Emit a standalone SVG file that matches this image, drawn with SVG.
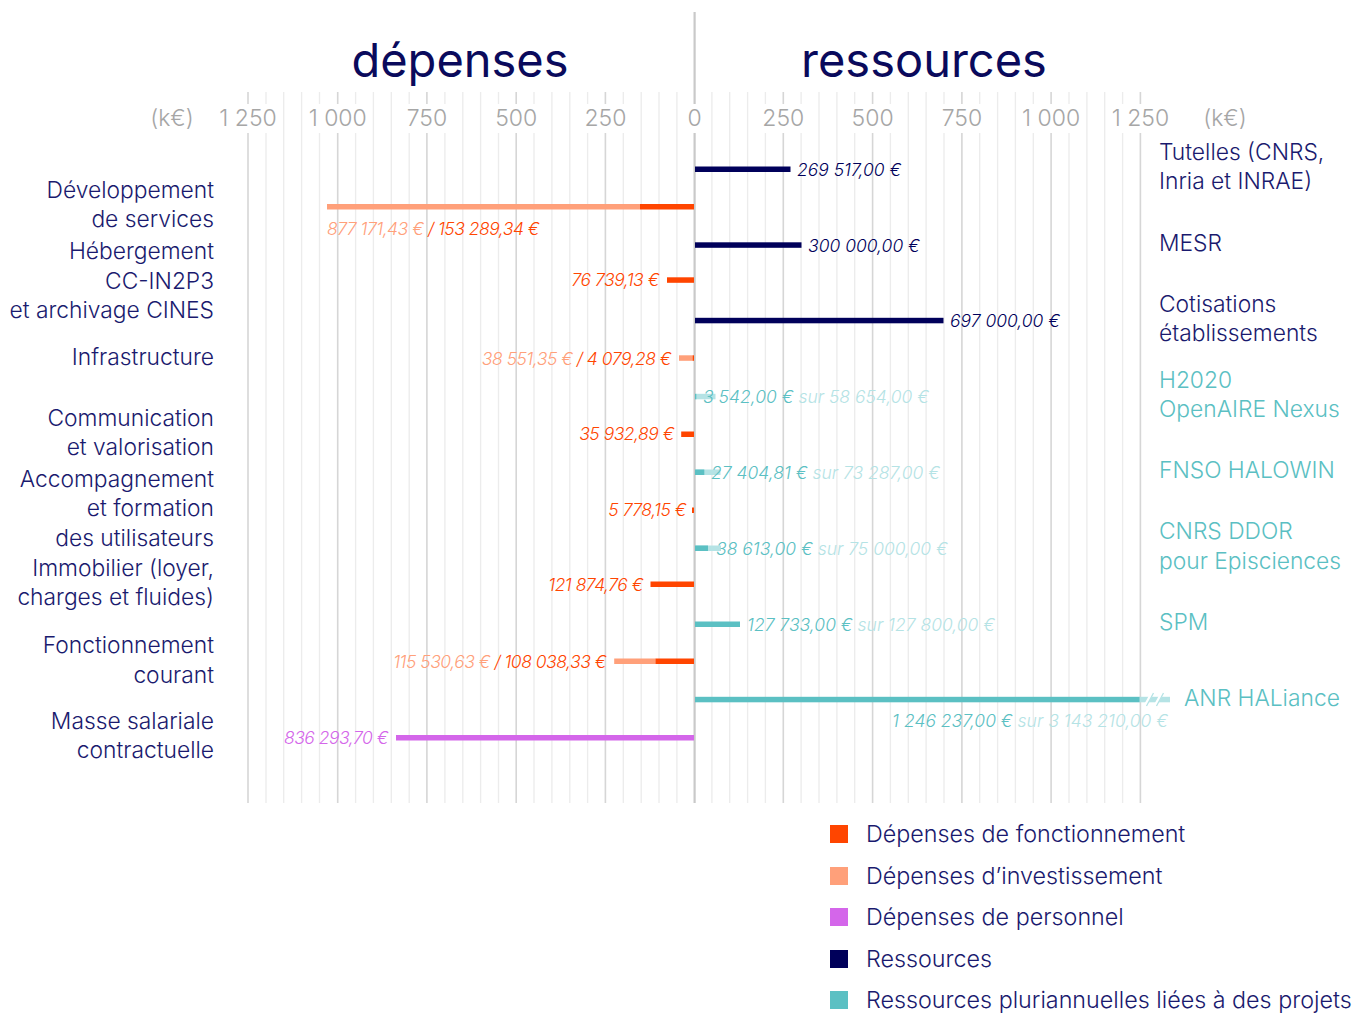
<svg xmlns="http://www.w3.org/2000/svg" width="1352" height="1013" viewBox="0 0 1352 1013">
<style>
text{font-family:Inter,"Noto Sans","DejaVu Sans",sans-serif;font-weight:300}
.title{font-size:47px;fill:#0a0a5c;text-anchor:middle;font-weight:400}
.ax{font-size:23px;fill:#a6a6a6;text-anchor:middle}
.lbl{font-size:22.8px;fill:#1a1a6e;text-anchor:end}
.rl{font-size:22.8px;fill:#1a1a6e}
.rt{font-size:22.8px;fill:#5bbfc3}
.val{font-size:17.5px;font-style:italic;letter-spacing:-0.5px}
.rv{letter-spacing:0}
.fo{fill:#ff4500}.inv{fill:#ffa07a}.per{fill:#d466ea}.res{fill:#00005a}.tl{fill:#5bc0c3}.tll{fill:#b5e3e5}
.minor{stroke:#ececec;stroke-width:1.3}
.major{stroke:#d6d6d6;stroke-width:1.6}
.lg{font-size:23.3px;fill:#1a1a6e}
</style>
<g id="grid">
<g class="minor">
<path d="M266 92V803M283.7 92V803M301.6 92V803M319.5 92V803M355.6 92V803M373.4 92V803M391.3 92V803M409.2 92V803M444.9 92V803M462.8 92V803M480.6 92V803M498.5 92V803M534 92V803M551.9 92V803M569.8 92V803M587.6 92V803M623.3 92V803M641.2 92V803M659 92V803M676.9 92V803"/>
<path d="M711.9 92V803M729.7 92V803M747.6 92V803M765.4 92V803M801.1 92V803M819 92V803M836.9 92V803M854.7 92V803M890.4 92V803M908.3 92V803M926.1 92V803M944 92V803M979.7 92V803M997.6 92V803M1015.4 92V803M1033.3 92V803M1069 92V803M1086.9 92V803M1104.7 92V803M1122.6 92V803"/>
</g>
<g class="major">
<path d="M248 92V803M337.7 92V803M426.9 92V803M516.2 92V803M605.4 92V803M783.3 92V803M872.6 92V803M961.9 92V803M1051.1 92V803M1140.4 92V803"/>
</g>
<path d="M694.6 12V803" stroke="#c9c9c9" stroke-width="2.2"/>
</g>
<g id="titles">
<text class="title" x="460" y="77">dépenses</text>
<text class="title" x="924" y="77">ressources</text>
</g>
<g id="axis-labels">
<g fill="#fff">
<rect x="216" y="104" width="63" height="29"/>
<rect x="305" y="104" width="65" height="29"/>
<rect x="404" y="104" width="46" height="29"/>
<rect x="493" y="104" width="46" height="29"/>
<rect x="582" y="104" width="46" height="29"/>
<rect x="684" y="104" width="21" height="29"/>
<rect x="760" y="104" width="46" height="29"/>
<rect x="849" y="104" width="46" height="29"/>
<rect x="939" y="104" width="46" height="29"/>
<rect x="1019" y="104" width="65" height="29"/>
<rect x="1109" y="104" width="63" height="29"/>
</g>
<text class="ax" x="172" y="126">(k€)</text>
<text class="ax" x="248" y="126">1 250</text>
<text class="ax" x="337.7" y="126">1 000</text>
<text class="ax" x="426.9" y="126">750</text>
<text class="ax" x="516.2" y="126">500</text>
<text class="ax" x="605.4" y="126">250</text>
<text class="ax" x="694.6" y="126">0</text>
<text class="ax" x="783.3" y="126">250</text>
<text class="ax" x="872.6" y="126">500</text>
<text class="ax" x="961.9" y="126">750</text>
<text class="ax" x="1051.1" y="126">1 000</text>
<text class="ax" x="1140.4" y="126">1 250</text>
<text class="ax" x="1225" y="126">(k€)</text>
</g>
<g id="depenses">
<g id="dev-services">
<text class="lbl" x="214" y="198">Développement</text>
<text class="lbl" x="214" y="227">de services</text>
<rect class="inv" x="327" y="204" width="313" height="5.5"/>
<rect class="fo" x="640" y="204" width="54" height="5.5"/>
<text class="val" x="327" y="235"><tspan class="inv">877 171,43 €</tspan><tspan class="fo"> / 153 289,34 €</tspan></text>
</g>
<g id="hebergement">
<text class="lbl" x="214" y="259">Hébergement</text>
<text class="lbl" x="214" y="289">CC-IN2P3</text>
<text class="lbl" x="214" y="318">et archivage CINES</text>
<rect class="fo" x="667" y="277.3" width="27" height="5.5"/>
<text class="val fo" x="659" y="286" text-anchor="end">76 739,13 €</text>
</g>
<g id="infrastructure">
<text class="lbl" x="214" y="365">Infrastructure</text>
<rect class="inv" x="679" y="355.3" width="13.5" height="5.5"/>
<rect class="fo" x="692.5" y="355.3" width="1.5" height="5.5"/>
<text class="val" x="671" y="365" text-anchor="end"><tspan class="inv">38 551,35 €</tspan><tspan class="fo"> / 4 079,28 €</tspan></text>
</g>
<g id="communication">
<text class="lbl" x="214" y="426">Communication</text>
<text class="lbl" x="214" y="455">et valorisation</text>
<rect class="fo" x="681.2" y="431.5" width="12.8" height="5.5"/>
<text class="val fo" x="674" y="440" text-anchor="end">35 932,89 €</text>
</g>
<g id="accompagnement">
<text class="lbl" x="214" y="487">Accompagnement</text>
<text class="lbl" x="214" y="516">et formation</text>
<text class="lbl" x="214" y="546">des utilisateurs</text>
<rect class="fo" x="692" y="507.5" width="2" height="5.5"/>
<text class="val fo" x="686" y="516" text-anchor="end">5 778,15 €</text>
</g>
<g id="immobilier">
<text class="lbl" x="214" y="576">Immobilier (loyer,</text>
<text class="lbl" x="214" y="605">charges et fluides)</text>
<rect class="fo" x="650.5" y="581.5" width="43.5" height="5.5"/>
<text class="val fo" x="643" y="591" text-anchor="end">121 874,76 €</text>
</g>
<g id="fonctionnement">
<text class="lbl" x="214" y="653">Fonctionnement</text>
<text class="lbl" x="214" y="683">courant</text>
<rect class="inv" x="614.2" y="658.5" width="41.2" height="5.5"/>
<rect class="fo" x="655.4" y="658.5" width="38.6" height="5.5"/>
<text class="val" x="606" y="668" text-anchor="end"><tspan class="inv">115 530,63 €</tspan><tspan class="fo"> / 108 038,33 €</tspan></text>
</g>
<g id="masse-salariale">
<text class="lbl" x="214" y="729">Masse salariale</text>
<text class="lbl" x="214" y="758">contractuelle</text>
<rect class="per" x="396" y="735" width="298" height="5.5"/>
<text class="val per" x="388" y="744" text-anchor="end">836 293,70 €</text>
</g>
</g>
<g id="ressources">
<g id="tutelles">
<text class="rl" x="1159" y="160">Tutelles (CNRS,</text>
<text class="rl" x="1159" y="189">Inria et INRAE)</text>
<rect class="res" x="695" y="166.5" width="95.5" height="5.5"/>
<text class="val rv res" x="797" y="176">269 517,00 €</text>
</g>
<g id="mesr">
<text class="rl" x="1159" y="251">MESR</text>
<rect class="res" x="695" y="242.3" width="106.5" height="5.5"/>
<text class="val rv res" x="808" y="252">300 000,00 €</text>
</g>
<g id="cotisations">
<text class="rl" x="1159" y="312">Cotisations</text>
<text class="rl" x="1159" y="341">établissements</text>
<rect class="res" x="695" y="317.8" width="248.5" height="5.5"/>
<text class="val rv res" x="950" y="327">697 000,00 €</text>
</g>
<g id="h2020">
<text class="rt" x="1159" y="388">H2020</text>
<text class="rt" x="1159" y="417">OpenAIRE Nexus</text>
<rect class="tll" x="695" y="393.8" width="20.5" height="5.5"/>
<rect class="tl" x="695" y="393.8" width="1.3" height="5.5"/>
<text class="val rv" x="703" y="403"><tspan class="tl">3 542,00 €</tspan><tspan class="tll"> sur 58 654,00 €</tspan></text>
</g>
<g id="fnso">
<text class="rt" x="1159" y="478">FNSO HALOWIN</text>
<rect class="tll" x="695" y="469.5" width="25.5" height="5.5"/>
<rect class="tl" x="695" y="469.5" width="9.3" height="5.5"/>
<text class="val rv" x="711" y="479"><tspan class="tl">27 404,81 €</tspan><tspan class="tll"> sur 73 287,00 €</tspan></text>
</g>
<g id="cnrs-ddor">
<text class="rt" x="1159" y="539">CNRS DDOR</text>
<text class="rt" x="1159" y="569">pour Episciences</text>
<rect class="tll" x="695" y="545.5" width="26" height="5.5"/>
<rect class="tl" x="695" y="545.5" width="13" height="5.5"/>
<text class="val rv" x="716" y="555"><tspan class="tl">38 613,00 €</tspan><tspan class="tll"> sur 75 000,00 €</tspan></text>
</g>
<g id="spm">
<text class="rt" x="1159" y="630">SPM</text>
<rect class="tl" x="695" y="621.5" width="45" height="5.5"/>
<text class="val rv" x="747" y="631"><tspan class="tl">127 733,00 €</tspan><tspan class="tll"> sur 127 800,00 €</tspan></text>
</g>
<g id="anr">
<text class="rt" x="1184" y="706">ANR HALiance</text>
<rect class="tll" x="1139" y="696.8" width="31" height="5.5"/>
<rect class="tl" x="695" y="696.8" width="444.5" height="5.5"/>
<path d="M1145 706L1152 693M1155 706L1162 693" stroke="#fff" stroke-width="3"/>
<path d="M1146.5 706L1153.5 693M1156.5 706L1163.5 693" stroke="#b5e3e5" stroke-width="1.3"/>
<text class="val rv" x="1168" y="727" text-anchor="end"><tspan class="tl">1 246 237,00 €</tspan><tspan class="tll"> sur 3 143 210,00 €</tspan></text>
</g>
</g>
<g id="legend">
<rect class="fo" x="830" y="825" width="18" height="18"/>
<text class="lg" x="866" y="842">Dépenses de fonctionnement</text>
<rect class="inv" x="830" y="867" width="18" height="18"/>
<text class="lg" x="866" y="884">Dépenses d’investissement</text>
<rect class="per" x="830" y="908" width="18" height="18"/>
<text class="lg" x="866" y="925">Dépenses de personnel</text>
<rect class="res" x="830" y="950" width="18" height="18"/>
<text class="lg" x="866" y="967">Ressources</text>
<rect class="tl" x="830" y="991" width="18" height="18"/>
<text class="lg" x="866" y="1008">Ressources pluriannuelles liées à des projets</text>
</g>
</svg>
